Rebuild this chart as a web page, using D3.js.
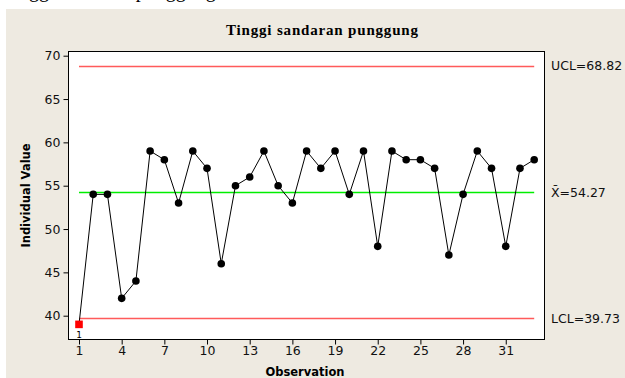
<!DOCTYPE html>
<html>
<head>
<meta charset="utf-8">
<script src="https://cdn.jsdelivr.net/npm/d3@7"></script>
<style>
  body { margin: 0; background: #fff; }
  svg { display: block; }
</style>
</head>
<body>
<svg id="chart"></svg>
<script>
// Individual values per observation
const observations = d3.range(1, 34);
const values = [39, 54, 54, 42, 44, 59, 58, 53, 59, 57, 46, 55, 56, 59, 55, 53,
                59, 57, 59, 54, 59, 48, 59, 58, 58, 57, 47, 54, 59, 57, 48, 57, 58];
const limits = [
    { name: "UCL", value: 68.82, label: "UCL=68.82", color: "#ff5a5a" },
    { name: "CL", value: 54.27, label: "X\u0304=54.27", color: "#00ee00" },
    { name: "LCL", value: 39.73, label: "LCL=39.73", color: "#ff5a5a" }
];
const outOfControl = [1]; // observations flagged by test 1
const xTicks = [1, 4, 7, 10, 13, 16, 19, 22, 25, 28, 31];
const yTicks = [40, 45, 50, 55, 60, 65, 70];

let width = 625;
let height = 378;
let plot = { left: 68, right: 545, top: 51, bottom: 340 };

let svg = d3.select("#chart")
    .attr("width", width)
    .attr("height", height)
    .style("font-family", "'DejaVu Sans', Verdana, sans-serif");

// document text cut off at the top (only descenders show)
svg.append("text")
    .attr("x", 2)
    .attr("y", -3)
    .style("font-family", "'Liberation Serif', 'Times New Roman', serif")
    .style("font-size", "20px")
    .attr("fill", "#000")
    .text("Tinggi sandaran punggung");

// chart background
svg.append("rect")
    .attr("x", 6).attr("y", 9)
    .attr("width", width - 6).attr("height", height - 9)
    .attr("fill", "#eeeae1");

svg.append("rect")
    .attr("x", plot.left).attr("y", plot.top)
    .attr("width", plot.right - plot.left).attr("height", plot.bottom - plot.top)
    .attr("fill", "#fff");

// scales
let x = d3.scaleLinear().domain([1, 33]).range([79, 534.2]);
let y = d3.scaleLinear().domain([40, 70]).range([315.7, 55.7]);

// title
svg.append("text")
    .attr("x", 226)
    .attr("y", 35)
    .attr("textLength", 192)
    .attr("lengthAdjust", "spacing")
    .style("font-family", "'Liberation Serif', 'Times New Roman', serif")
    .style("font-size", "15px")
    .style("font-weight", "bold")
    .text("Tinggi sandaran punggung");

// control limit lines
svg.append("g")
    .selectAll("line")
    .data(limits)
    .join("line")
    .attr("x1", x(1))
    .attr("x2", x(33))
    .attr("y1", d => Math.round(y(d.value)) + 0.5)
    .attr("y2", d => Math.round(y(d.value)) + 0.5)
    .attr("stroke", d => d.color)
    .attr("stroke-width", 1.3);

svg.append("g")
    .selectAll("text")
    .data(limits)
    .join("text")
    .attr("x", 551)
    .attr("y", d => y(d.value) + 4.5)
    .style("font-size", "12.5px")
    .attr("fill", "#111")
    .text(d => d.label);

// data line
let line = d3.line()
    .x((d, i) => x(observations[i]))
    .y(d => y(d));

svg.append("path")
    .datum(values)
    .attr("fill", "none")
    .attr("stroke", "#000")
    .attr("stroke-width", 1)
    .attr("d", line);

// points
let pts = observations.map((o, i) => ({ obs: o, value: values[i] }));

svg.append("g")
    .selectAll("circle")
    .data(pts.filter(d => !outOfControl.includes(d.obs)))
    .join("circle")
    .attr("cx", d => x(d.obs))
    .attr("cy", d => y(d.value))
    .attr("r", 3.8)
    .attr("fill", "#000");

let flagged = pts.filter(d => outOfControl.includes(d.obs));
svg.append("g")
    .selectAll("rect")
    .data(flagged)
    .join("rect")
    .attr("x", d => x(d.obs) - 3.8)
    .attr("y", d => y(d.value) - 3.8)
    .attr("width", 7.6)
    .attr("height", 7.6)
    .attr("fill", "#ff0000");

svg.append("g")
    .selectAll("text")
    .data(flagged)
    .join("text")
    .attr("x", d => x(d.obs))
    .attr("y", d => y(d.value) + 14)
    .attr("text-anchor", "middle")
    .style("font-size", "9px")
    .text("1");

// frame
svg.append("rect")
    .attr("x", plot.left + 0.5).attr("y", plot.top + 0.5)
    .attr("width", plot.right - plot.left - 1).attr("height", plot.bottom - plot.top - 1)
    .attr("fill", "none")
    .attr("stroke", "#000");

// axes
let yAxis = svg.append("g")
    .attr("transform", `translate(${plot.left + 0.5},0)`)
    .call(d3.axisLeft(y).tickValues(yTicks).tickSize(5).tickPadding(3));
yAxis.select(".domain").remove();

let xAxis = svg.append("g")
    .attr("transform", `translate(0,${plot.bottom - 0.5})`)
    .call(d3.axisBottom(x).tickValues(xTicks).tickSize(5).tickPadding(2));
xAxis.select(".domain").remove();

svg.selectAll(".tick text")
    .style("font-family", "'DejaVu Sans', Verdana, sans-serif")
    .style("font-size", "12.5px")
    .attr("fill", "#111");

// axis titles
svg.append("text")
    .attr("x", 305)
    .attr("y", 376)
    .attr("text-anchor", "middle")
    .style("font-size", "11.5px")
    .style("font-weight", "bold")
    .text("Observation");

svg.append("text")
    .attr("transform", `translate(30,${(plot.top + plot.bottom) / 2}) rotate(-90)`)
    .attr("text-anchor", "middle")
    .style("font-size", "11.5px")
    .style("font-weight", "bold")
    .text("Individual Value");
</script>
</body>
</html>
